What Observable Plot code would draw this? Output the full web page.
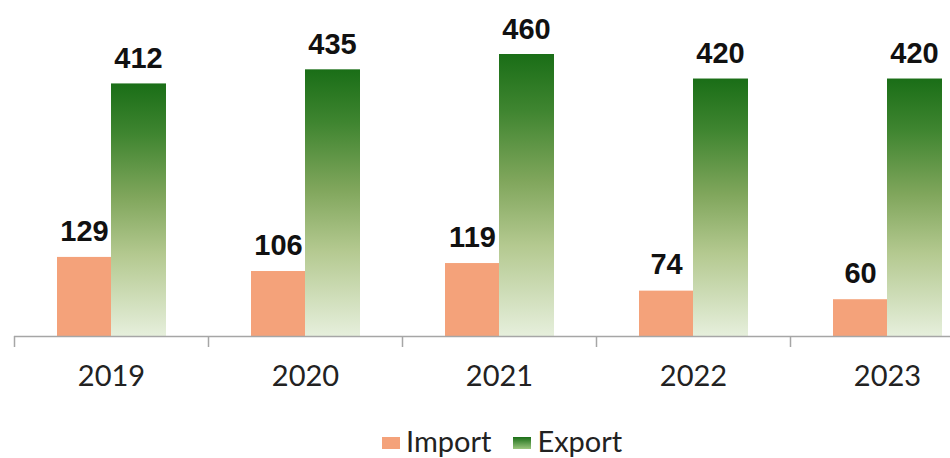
<!DOCTYPE html>
<html>
<head>
<meta charset="utf-8">
<script src="https://cdn.jsdelivr.net/npm/d3@7"></script>
<script src="https://cdn.jsdelivr.net/npm/@observablehq/plot@0.6"></script>
<style>
  html, body { margin: 0; padding: 0; background: #fff; }
  #chart svg { display: block; }
  .legend { display: flex; align-items: center; height: 48px; padding-left: 382px; padding-top: 6px; font-family: Lato, "Open Sans", sans-serif; font-size: 29px; color: #222; }
  .legend .sw { display: inline-block; width: 18px; height: 12px; margin-right: 6px; margin-top: 6px; }
  .legend .item { display: flex; align-items: center; margin-right: 22px; }
</style>
</head>
<body>
<div id="chart"></div>
<div class="legend">
  <span class="item"><span class="sw" style="background:#F4A27A"></span>Import</span>
  <span class="item"><span class="sw" style="background:linear-gradient(#1a6e17,#9cc67e)"></span>Export</span>
</div>
<script>
const years = ["2019", "2020", "2021", "2022", "2023"];
const importValues = [129, 106, 119, 74, 60];
const exportValues = [412, 435, 460, 420, 420];

const rows = years.map((y, i) => ({year: y, imp: importValues[i], exp: exportValues[i]}));

const numFont = {fontFamily: "'Liberation Sans', Arial, sans-serif", fontWeight: "bold", fontSize: 29, fill: "#111"};

const plot = Plot.plot({
  width: 950,
  height: 410,
  marginLeft: 14,
  marginRight: 0,
  marginTop: 54,
  marginBottom: 74,
  x: {domain: years, range: [14, 984], padding: 0, axis: null},
  y: {domain: [0, 460], range: [336, 54], axis: null},
  marks: [
    Plot.barY(rows, {x: "year", y: "imp", fill: "#F4A27A", insetLeft: 43, insetRight: 97}),
    Plot.barY(rows, {x: "year", y: "exp", fill: "url(#exportGrad)", insetLeft: 97, insetRight: 42}),
    Plot.text(rows, {x: "year", y: "imp", text: d => String(d.imp), dx: -27, dy: -26, ...numFont}),
    Plot.text(rows, {x: "year", y: "exp", text: d => String(d.exp), dx: 27, dy: -25, ...numFont}),
    Plot.ruleY([0], {stroke: "#a6a6a6", strokeWidth: 1.5}),
    Plot.axisX({tickSize: 11, dx: -97, tickFormat: () => "", label: null, stroke: "#a6a6a6", strokeWidth: 1.5}),
    Plot.text(years, {x: d => d, y: 0, dy: 40, text: d => d, fontFamily: "Lato, 'Open Sans', sans-serif", fontSize: 29, fill: "#222"})
  ]
});

const defs = d3.select(plot).insert("defs", ":first-child");
const grad = defs.append("linearGradient").attr("id", "exportGrad").attr("x1", 0).attr("y1", 0).attr("x2", 0).attr("y2", 1);
[[0, "#1a6e17"], [0.2, "#3f8530"], [0.45, "#80a65c"], [0.68, "#b4c990"], [1, "#e6efdc"]].forEach(([o, c]) => {
  grad.append("stop").attr("offset", o).attr("stop-color", c);
});

document.getElementById("chart").appendChild(plot);
</script>
</body>
</html>
